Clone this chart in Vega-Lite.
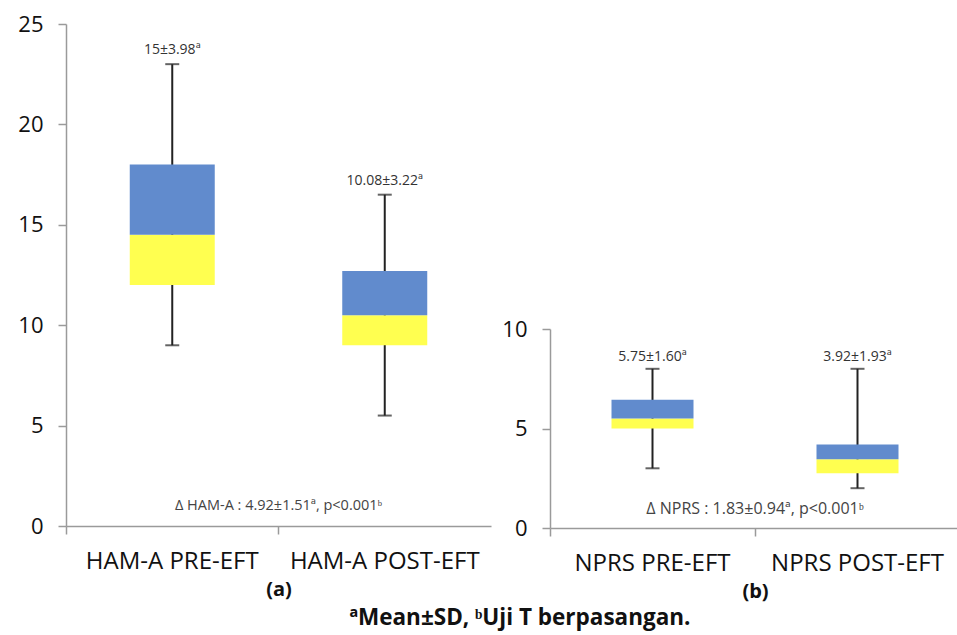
{
  "$schema": "https://vega.github.io/schema/vega-lite/v6.json",
  "background": "white",
  "padding": {"left": 17, "top": 13, "right": 0, "bottom": 2},
  "spacing": 10,
  "config": {
    "view": {"stroke": null},
    "font": "Open Sans",
    "axis": {"domainColor": "#9a9a9a", "tickColor": "#9a9a9a", "domainWidth": 1.5, "tickWidth": 1.5, "labelColor": "#111", "labelFont": "Open Sans", "tickSize": 8, "grid": false},
    "axisX": {"titleFontSize": 20, "titleFontWeight": "bold", "titleColor": "#111", "titlePadding": 6, "labelLimit": 400, "labelFontSize": 24, "labelPadding": 15}
  },
  "title": {"text": "ªMean±SD, ᵇUji T berpasangan.", "orient": "bottom", "anchor": "middle", "fontSize": 22.5, "fontWeight": "bold", "color": "#111", "offset": 6, "dx": 31},
  "datasets": {
    "ham": [
      {"group": "HAM-A PRE-EFT", "min": 9, "q1": 12, "median": 14.5, "q3": 18, "max": 23, "label": "15±3.98ª"},
      {"group": "HAM-A POST-EFT", "min": 5.5, "q1": 9, "median": 10.5, "q3": 12.7, "max": 16.5, "label": "10.08±3.22ª"}
    ],
    "nprs": [
      {"group": "NPRS PRE-EFT", "min": 3, "q1": 5, "median": 5.5, "q3": 6.45, "max": 8, "label": "5.75±1.60ª"},
      {"group": "NPRS POST-EFT", "min": 2, "q1": 2.75, "median": 3.45, "q3": 4.2, "max": 8, "label": "3.92±1.93ª"}
    ],
    "hamNote": [{"note": "Δ HAM-A : 4.92±1.51ª, p<0.001ᵇ"}],
    "nprsNote": [{"note": "Δ NPRS : 1.83±0.94ª, p<0.001ᵇ"}]
  },
  "hconcat": [
    {
      "width": 425,
      "height": 502,
      "layer": [
        {
          "data": {"name": "ham"},
          "mark": {"type": "rule", "color": "#222", "strokeWidth": 2},
          "encoding": {
            "x": {"field": "group", "type": "nominal", "sort": null, "scale": {"paddingInner": 0, "paddingOuter": 0},
                  "axis": {"title": "(a)", "labelAngle": 0, "bandPosition": 0}},
            "y": {"field": "min", "type": "quantitative", "scale": {"domain": [0, 25], "nice": false},
                  "axis": {"title": null, "values": [0, 5, 10, 15, 20, 25], "labelFontSize": 22, "labelPadding": 15}},
            "y2": {"field": "max"}
          }
        },
        {
          "data": {"name": "ham"},
          "mark": {"type": "bar", "color": "#ffff50", "width": {"band": 0.4}},
          "encoding": {
            "x": {"field": "group", "type": "nominal", "sort": null},
            "y": {"field": "q1", "type": "quantitative"},
            "y2": {"field": "median"}
          }
        },
        {
          "data": {"name": "ham"},
          "mark": {"type": "bar", "color": "#618bcd", "width": {"band": 0.4}},
          "encoding": {
            "x": {"field": "group", "type": "nominal", "sort": null},
            "y": {"field": "median", "type": "quantitative"},
            "y2": {"field": "q3"}
          }
        },
        {
          "data": {"name": "ham"},
          "mark": {"type": "tick", "color": "#222", "thickness": 2, "size": 14},
          "encoding": {
            "x": {"field": "group", "type": "nominal", "sort": null},
            "y": {"field": "max", "type": "quantitative"}
          }
        },
        {
          "data": {"name": "ham"},
          "mark": {"type": "tick", "color": "#222", "thickness": 2, "size": 14},
          "encoding": {
            "x": {"field": "group", "type": "nominal", "sort": null},
            "y": {"field": "min", "type": "quantitative"}
          }
        },
        {
          "data": {"name": "ham"},
          "mark": {"type": "text", "baseline": "bottom", "dy": -7, "fontSize": 14, "color": "#333"},
          "encoding": {
            "x": {"field": "group", "type": "nominal", "sort": null},
            "y": {"field": "max", "type": "quantitative"},
            "text": {"field": "label"}
          }
        },
        {
          "data": {"name": "hamNote"},
          "mark": {"type": "text", "baseline": "middle", "fontSize": 14.5, "color": "#444"},
          "encoding": {
            "y": {"datum": 1, "type": "quantitative"},
            "text": {"field": "note"}
          }
        }
      ]
    },
    {
      "spacing": 0,
      "vconcat": [
        {
          "width": 410,
          "height": 294,
          "data": {"values": [{}]},
          "mark": {"type": "point", "opacity": 0}
        },
        {
          "width": 410,
          "height": 199,
          "layer": [
            {
              "data": {"name": "nprs"},
              "mark": {"type": "rule", "color": "#222", "strokeWidth": 2},
              "encoding": {
                "x": {"field": "group", "type": "nominal", "sort": null, "scale": {"paddingInner": 0, "paddingOuter": 0},
                      "axis": {"title": "(b)", "labelAngle": 0, "bandPosition": 0}},
                "y": {"field": "min", "type": "quantitative", "scale": {"domain": [0, 10], "nice": false},
                      "axis": {"title": null, "values": [0, 5, 10], "labelFontSize": 22, "labelPadding": 15}},
                "y2": {"field": "max"}
              }
            },
            {
              "data": {"name": "nprs"},
              "mark": {"type": "bar", "color": "#ffff50", "width": {"band": 0.4}},
              "encoding": {
                "x": {"field": "group", "type": "nominal", "sort": null},
                "y": {"field": "q1", "type": "quantitative"},
                "y2": {"field": "median"}
              }
            },
            {
              "data": {"name": "nprs"},
              "mark": {"type": "bar", "color": "#618bcd", "width": {"band": 0.4}},
              "encoding": {
                "x": {"field": "group", "type": "nominal", "sort": null},
                "y": {"field": "median", "type": "quantitative"},
                "y2": {"field": "q3"}
              }
            },
            {
              "data": {"name": "nprs"},
              "mark": {"type": "tick", "color": "#222", "thickness": 2, "size": 14},
              "encoding": {
                "x": {"field": "group", "type": "nominal", "sort": null},
                "y": {"field": "max", "type": "quantitative"}
              }
            },
            {
              "data": {"name": "nprs"},
              "mark": {"type": "tick", "color": "#222", "thickness": 2, "size": 14},
              "encoding": {
                "x": {"field": "group", "type": "nominal", "sort": null},
                "y": {"field": "min", "type": "quantitative"}
              }
            },
            {
              "data": {"name": "nprs"},
              "mark": {"type": "text", "baseline": "bottom", "dy": -5, "fontSize": 14, "color": "#333"},
              "encoding": {
                "x": {"field": "group", "type": "nominal", "sort": null},
                "y": {"field": "max", "type": "quantitative"},
                "text": {"field": "label"}
              }
            },
            {
              "data": {"name": "nprsNote"},
              "mark": {"type": "text", "baseline": "middle", "fontSize": 16, "color": "#444"},
              "encoding": {
                "y": {"datum": 0.95, "type": "quantitative"},
                "text": {"field": "note"}
              }
            }
          ]
        }
      ]
    }
  ]
}
